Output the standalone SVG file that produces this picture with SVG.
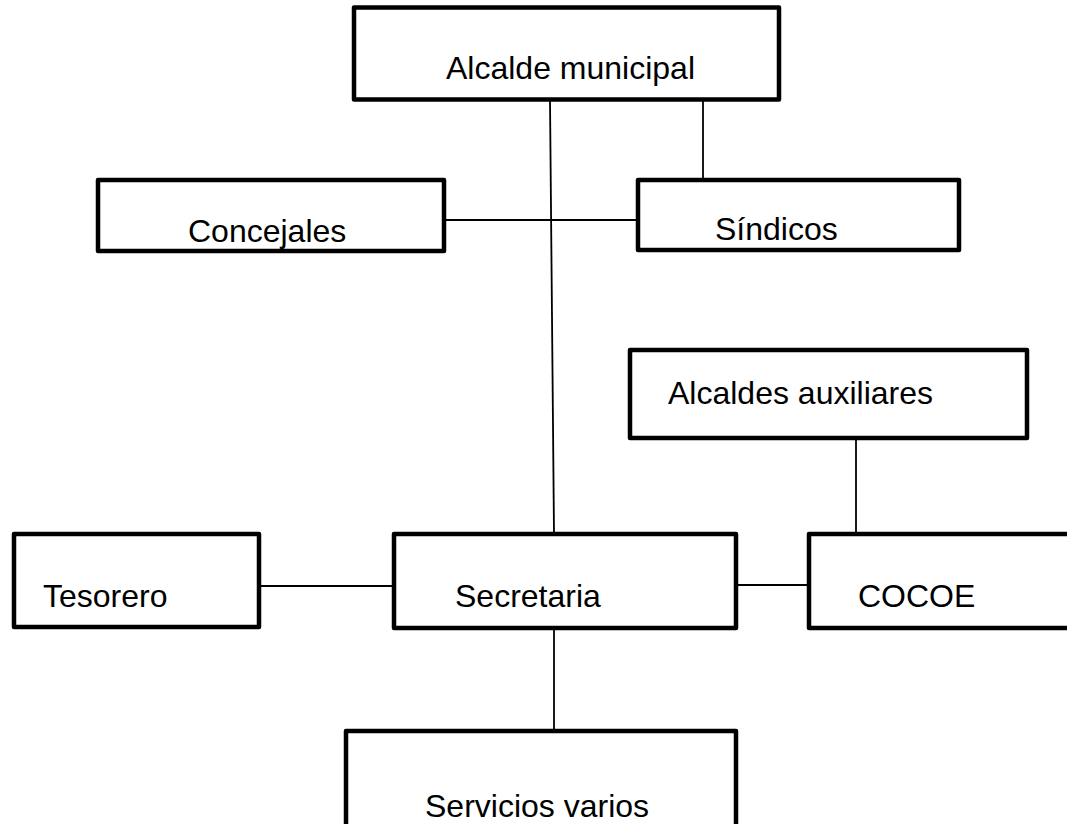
<svg xmlns="http://www.w3.org/2000/svg" width="1067" height="824" viewBox="0 0 1067 824">
<style>
.box{fill:#fff;stroke:#000;stroke-width:4.5;stroke-linejoin:round}
.lbl{font-family:"Liberation Sans",Arial,sans-serif;font-size:32px;fill:#000}
.ln{stroke:#000;stroke-width:1.8;fill:none}
</style>
<rect width="1067" height="824" fill="#fff"/>
<g id="connectors">
<line class="ln" x1="550" y1="100" x2="554" y2="534"/>
<line class="ln" x1="703" y1="100" x2="703" y2="180"/>
<line class="ln" x1="444" y1="220" x2="638" y2="220"/>
<line class="ln" x1="856" y1="438" x2="856" y2="534"/>
<line class="ln" x1="259" y1="586" x2="394" y2="586"/>
<line class="ln" x1="736" y1="585" x2="809" y2="585"/>
<line class="ln" x1="554" y1="628" x2="554" y2="731"/>
</g>
<g id="alcalde"><rect class="box" x="354" y="7.5" width="425" height="92"/><text class="lbl" x="446" y="79">Alcalde municipal</text></g>
<g id="concejales"><rect class="box" x="98" y="180" width="346" height="71"/><text class="lbl" x="188" y="242">Concejales</text></g>
<g id="sindicos"><rect class="box" x="638" y="180" width="321" height="70"/><text class="lbl" x="715" y="240">Síndicos</text></g>
<g id="auxiliares"><rect class="box" x="630" y="350" width="397" height="88"/><text class="lbl" x="668" y="404">Alcaldes auxiliares</text></g>
<g id="tesorero"><rect class="box" x="14" y="534" width="245" height="93"/><text class="lbl" x="43" y="607">Tesorero</text></g>
<g id="secretaria"><rect class="box" x="394" y="534" width="342" height="94"/><text class="lbl" x="455" y="607">Secretaria</text></g>
<g id="cocoe"><rect class="box" x="809" y="534" width="300" height="94"/><text class="lbl" x="858" y="607">COCOE</text></g>
<g id="servicios"><rect class="box" x="346" y="731" width="390" height="120"/><text class="lbl" x="425" y="817">Servicios varios</text></g>
</svg>
